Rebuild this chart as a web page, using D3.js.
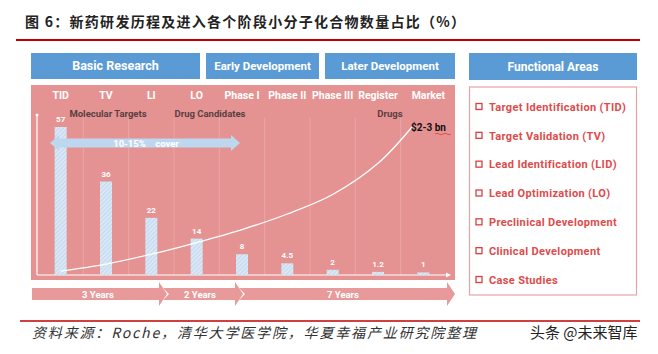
<!DOCTYPE html>
<html>
<head>
<meta charset="utf-8">
<script src="https://cdn.jsdelivr.net/npm/d3@7/dist/d3.min.js"></script>
<style>
  body { margin: 0; background: #fff; }
  svg { display: block; }
</style>
</head>
<body>
<svg id="chart"></svg>
<script>
// 数据
const stages = ["TID", "TV", "LI", "LO", "Phase I", "Phase II", "Phase III", "Register", "Market"];
const compoundShare = [57, 36, 22, 14, 8, 4.5, 2, 1.2, 1];
const valueLabels = ["57", "36", "22", "14", "8", "4.5", "2", "1.2", "1"];
// 成本曲线 (按阶段序号, 同一纵轴单位)
const costIdx = [0, 1, 2, 3, 4, 5, 6, 7, 7.75];
const costVal = [1.5, 4.2, 8, 12.5, 17.5, 23.5, 31, 43, 57];
const phaseHeads = ["Basic Research", "Early Development", "Later Development"];
const groupLabels = ["Molecular Targets", "Drug Candidates", "Drugs"];
const yearLabels = ["3 Years", "2 Years", "7 Years"];
const functionalAreas = [
  "Target Identification (TID)",
  "Target Validation (TV)",
  "Lead Identification (LID)",
  "Lead Optimization (LO)",
  "Preclinical Development",
  "Clinical Development",
  "Case Studies"
];
const titleText = "图 6：新药研发历程及进入各个阶段小分子化合物数量占比（%）";
const sourceText = "资料来源：Roche，清华大学医学院，华夏幸福产业研究院整理";

const width = 658, height = 354;
const blue = "#5b9bd5", pink = "#e59392", red = "#c00000";
const latin = "Roboto, 'Liberation Sans', sans-serif";
const cjk = "'Noto Sans CJK SC', sans-serif";

const svg = d3.select("#chart").attr("width", width).attr("height", height);

// 图案: 斜线填充
const defs = svg.append("defs");
const pat = defs.append("pattern")
  .attr("id", "hatch")
  .attr("patternUnits", "userSpaceOnUse")
  .attr("width", 3).attr("height", 3)
  .attr("patternTransform", "rotate(45)");
pat.append("rect").attr("width", 3).attr("height", 3).attr("fill", "#dae8f6");
pat.append("line").attr("x1", 0).attr("y1", 0).attr("x2", 0).attr("y2", 3)
  .attr("stroke", "#a9c8e8").attr("stroke-width", 1);

// 标题
svg.append("text")
  .attr("x", 25).attr("y", 27)
  .attr("font-family", cjk).attr("font-weight", "bold").attr("font-size", 14)
  .attr("fill", "#222")
  .attr("textLength", 440).attr("lengthAdjust", "spacing")
  .text(titleText);
svg.append("line").attr("x1", 16).attr("x2", 640).attr("y1", 40).attr("y2", 40)
  .attr("stroke", red).attr("stroke-width", 2);

// 顶部蓝色标签
const heads = [[31, 200], [206, 319], [325, 455]];
heads.forEach((h, i) => {
  svg.append("rect").attr("x", h[0]).attr("y", 53).attr("width", h[1] - h[0]).attr("height", 26)
    .attr("fill", blue);
  svg.append("text").attr("x", (h[0] + h[1]) / 2).attr("y", 70)
    .attr("text-anchor", "middle").attr("fill", "#fff")
    .attr("font-family", latin).attr("font-weight", 700)
    .attr("font-size", i === 0 ? 12.5 : 11.5)
    .text(phaseHeads[i]);
});

// 粉色主面板
svg.append("rect").attr("x", 31).attr("y", 85).attr("width", 424).attr("height", 195)
  .attr("fill", pink);

const x = d3.scaleBand().domain(stages).range([38, 446]).padding(0);
const y = d3.scaleLinear().domain([0, 57]).range([275, 127]);
const xi = d3.scaleLinear().domain([0, stages.length]).range(x.range());

const g = svg.append("g");

// 分隔竖线
g.selectAll(".divider")
  .data(stages.slice(1))
  .enter().append("line")
  .attr("x1", d => x(d)).attr("x2", d => x(d))
  .attr("y1", 118).attr("y2", 275)
  .attr("stroke", "#fff").attr("stroke-opacity", 0.18).attr("stroke-width", 1);

// 阶段标签
g.selectAll(".stage")
  .data(stages)
  .enter().append("text")
  .attr("x", d => x(d) + x.bandwidth() / 2 + (d === "Market" ? 5 : 0))
  .attr("y", 99)
  .attr("text-anchor", "middle").attr("fill", "#fff")
  .attr("font-family", latin).attr("font-weight", 700).attr("font-size", 10.5)
  .text(d => d);

// 分组标签
const groupX = [108, 210, 390];
groupLabels.forEach((t, i) => {
  g.append("text").attr("x", groupX[i]).attr("y", 117)
    .attr("text-anchor", "middle").attr("fill", "#5a3f3f")
    .attr("font-family", latin).attr("font-weight", 700).attr("font-size", 9.5)
    .text(t);
});

// 坐标轴
g.append("line").attr("x1", 37).attr("x2", 37).attr("y1", 115).attr("y2", y(0))
  .attr("stroke", "#fff").attr("stroke-width", 1.2);
g.append("circle").attr("cx", 37).attr("cy", 115).attr("r", 1.5).attr("fill", "#fff");
g.append("line").attr("x1", 37).attr("x2", 446).attr("y1", y(0)).attr("y2", y(0))
  .attr("stroke", "#fff").attr("stroke-width", 1.2);
g.append("path").attr("d", `M446,${y(0) - 2.5}L451,${y(0)}L446,${y(0) + 2.5}Z`).attr("fill", "#fff");

// 柱形
const bw = 12;
g.selectAll(".bar")
  .data(stages)
  .enter().append("rect")
  .attr("x", d => x(d) + x.bandwidth() / 2 - bw / 2)
  .attr("y", (d, i) => y(compoundShare[i]))
  .attr("width", bw)
  .attr("height", (d, i) => y(0) - y(compoundShare[i]))
  .attr("fill", "url(#hatch)");

// 数值标签
g.selectAll(".val")
  .data(stages)
  .enter().append("text")
  .attr("x", d => x(d) + x.bandwidth() / 2)
  .attr("y", (d, i) => y(compoundShare[i]) - 5)
  .attr("text-anchor", "middle").attr("fill", "#fff")
  .attr("font-family", latin).attr("font-weight", 700).attr("font-size", 8)
  .text((d, i) => valueLabels[i]);

// 10-15% cover 双向箭头
const ax0 = 50, ax1 = 240, ay = 143;
g.append("path")
  .attr("d", `M${ax0},${ay}L${ax0 + 9},${ay - 8}L${ax0 + 9},${ay - 4.5}L${ax1 - 9},${ay - 4.5}L${ax1 - 9},${ay - 8}` +
             `L${ax1},${ay}L${ax1 - 9},${ay + 8}L${ax1 - 9},${ay + 4.5}L${ax0 + 9},${ay + 4.5}L${ax0 + 9},${ay + 8}Z`)
  .attr("fill", "#bdd7ee");
g.append("text").attr("x", 146).attr("y", ay + 3.5)
  .attr("text-anchor", "middle").attr("fill", "#fff").attr("xml:space", "preserve")
  .attr("font-family", latin).attr("font-weight", 700).attr("font-size", 9.5)
  .text("10-15%    cover");

// 成本曲线
const costPts = costIdx.map((c, i) => [xi(c + 0.5), y(costVal[i])]);
g.append("path")
  .attr("d", d3.line().curve(d3.curveCatmullRom.alpha(0.5))(costPts))
  .attr("fill", "none").attr("stroke", "#fff").attr("stroke-width", 1.3);
const last = costPts[costPts.length - 1];
g.append("text").attr("x", last[0] - 1).attr("y", last[1] + 4)
  .attr("fill", "#111").attr("font-family", latin).attr("font-weight", 700).attr("font-size", 10)
  .text("$2-3 bn");
g.append("path")
  .attr("d", `M${last[0] + 23},${last[1] + 7}q2,-1.5 4,0t4,0t4,0t4,0`)
  .attr("fill", "none").attr("stroke", "#e03030").attr("stroke-width", 0.7);

// 底部年限箭头
const bandTop = 288, bandBot = 300, headTop = 282, headBot = 306, mid = (bandTop + bandBot) / 2;
const segs = [[32, 167], [163, 243], [239, 455]];
segs.forEach((s, i) => {
  const notch = i === 0 ? "" : `L${s[0] + 6},${mid}`;
  const dPath = `M${s[0]},${bandTop}L${s[1] - 8},${bandTop}L${s[1] - 8},${headTop}L${s[1]},${mid}` +
    `L${s[1] - 8},${headBot}L${s[1] - 8},${bandBot}L${s[0]},${bandBot}${notch}Z`;
  svg.append("path").attr("d", dPath).attr("fill", "#e8999a");
});
const yearX = [98, 200, 343];
yearLabels.forEach((t, i) => {
  svg.append("text").attr("x", yearX[i]).attr("y", mid + 3.5)
    .attr("text-anchor", "middle").attr("fill", "#fff")
    .attr("font-family", latin).attr("font-weight", 700).attr("font-size", 9.5)
    .text(t);
});

// 右侧功能区
svg.append("rect").attr("x", 469).attr("y", 53).attr("width", 168).attr("height", 27).attr("fill", blue);
svg.append("text").attr("x", 553).attr("y", 70.5).attr("text-anchor", "middle").attr("fill", "#fff")
  .attr("font-family", latin).attr("font-weight", 700).attr("font-size", 12)
  .text("Functional Areas");
svg.append("rect").attr("x", 469.5).attr("y", 87).attr("width", 167).attr("height", 208)
  .attr("fill", "#fff").attr("stroke", "#e9a3a3").attr("stroke-width", 1.2);

const fy = d3.scalePoint().domain(functionalAreas).range([107, 280]);
const items = svg.selectAll(".fa")
  .data(functionalAreas)
  .enter().append("g")
  .attr("transform", d => `translate(0,${fy(d)})`);
items.append("rect").attr("x", 476).attr("y", -3.5).attr("width", 6).attr("height", 6)
  .attr("fill", "none").attr("stroke", "#d9403f").attr("stroke-width", 1.3);
items.append("text").attr("x", 489).attr("y", 3.8)
  .attr("fill", "#de4b4a").attr("font-family", latin).attr("font-weight", 700).attr("font-size", 11)
  .attr("letter-spacing", 0.35)
  .text(d => d);

// 底部来源
svg.append("line").attr("x1", 20).attr("x2", 640).attr("y1", 321).attr("y2", 321)
  .attr("stroke", red).attr("stroke-width", 1.5);
svg.append("text").attr("x", 32).attr("y", 338)
  .attr("font-family", cjk).attr("font-style", "italic").attr("font-size", 14)
  .attr("fill", "#333").attr("textLength", 444).attr("lengthAdjust", "spacing")
  .text(sourceText);
svg.append("text").attr("x", 530).attr("y", 338)
  .attr("font-family", cjk).attr("font-size", 15).attr("fill", "#222")
  .text("头条 @未来智库");
</script>
</body>
</html>
